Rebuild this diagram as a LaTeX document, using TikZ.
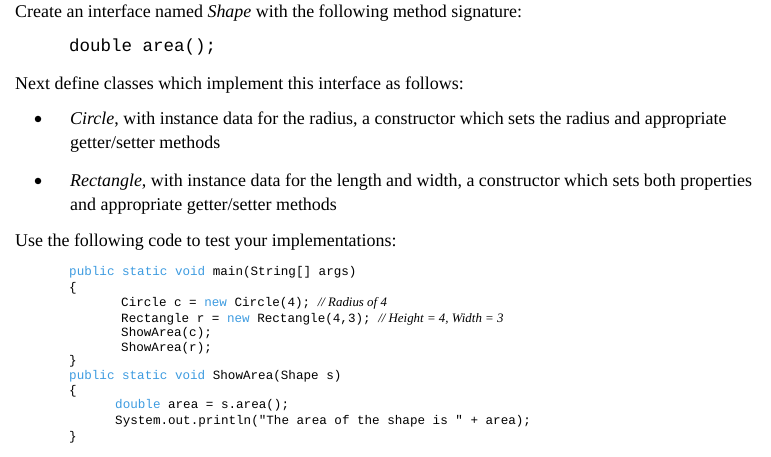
\documentclass[tikz,border=0pt]{standalone}
\usepackage{fontspec}
\setmainfont{Liberation Serif}
\setmonofont{Liberation Mono}
\definecolor{kwblue}{HTML}{3D9BE0}
\newcommand{\kw}[1]{\textcolor{kwblue}{#1}}
\newcommand{\cmt}[1]{{\fontsize{12.9}{14}\rmfamily\itshape #1}}
\begin{document}
\begin{tikzpicture}[
    x=1pt, y=-1pt,
    % Define Styles
    prose/.style={
        anchor=base west,
        inner sep=0pt,
        font=\fontsize{17.95}{20}\selectfont
    },
    codeline/.style={
        anchor=base west,
        inner sep=0pt,
        font=\fontsize{12.6}{14}\ttfamily
    },
    dot/.style={
        circle,
        fill=black,
        inner sep=0pt,
        minimum size=6.5pt
    }
    ]

    \useasboundingbox (0,0) rectangle (771,457);

    % Prose
    \node[prose] (intro) at (15,18) {Create an interface named \textit{Shape} with the following method signature:};
    \node[codeline, font=\fontsize{17.5}{20}\ttfamily] (sig) at (69,52) {double area();};
    \node[prose] (next) at (15,90) {Next define classes which implement this interface as follows:};

    % Bullets
    \node[dot] (b1) at (38,119) {};
    \node[prose] (circ1) at (70,125) {\textit{Circle}, with instance data for the radius, a constructor which sets the radius and appropriate};
    \node[prose] (circ2) at (70,149) {getter/setter methods};
    \node[dot] (b2) at (38,181) {};
    \node[prose] (rect1) at (70,187) {\textit{Rectangle}, with instance data for the length and width, a constructor which sets both properties};
    \node[prose] (rect2) at (70,211) {and appropriate getter/setter methods};

    \node[prose] (use) at (15,247) {Use the following code to test your implementations:};

    % Test code
    \node[codeline] (l1) at (69,275) {\kw{public static void} main(String[] args)};
    \node[codeline] (l2) at (69,291) {\{};
    \node[codeline] (l3) at (121,306) {Circle c = \kw{new} Circle(4); \cmt{// Radius of 4}};
    \node[codeline] (l4) at (121,322) {Rectangle r = \kw{new} Rectangle(4,3); \cmt{// Height = 4, Width = 3}};
    \node[codeline] (l5) at (121,336) {ShowArea(c);};
    \node[codeline] (l6) at (121,351) {ShowArea(r);};
    \node[codeline] (l7) at (69,364) {\}};
    \node[codeline] (l8) at (69,379) {\kw{public static void} ShowArea(Shape s)};
    \node[codeline] (l9) at (69,394) {\{};
    \node[codeline] (l10) at (115,408) {\kw{double} area = s.area();};
    \node[codeline] (l11) at (115,424) {System.out.println("The area of the shape is " + area);};
    \node[codeline] (l12) at (69,440) {\}};

\end{tikzpicture}
\end{document}
